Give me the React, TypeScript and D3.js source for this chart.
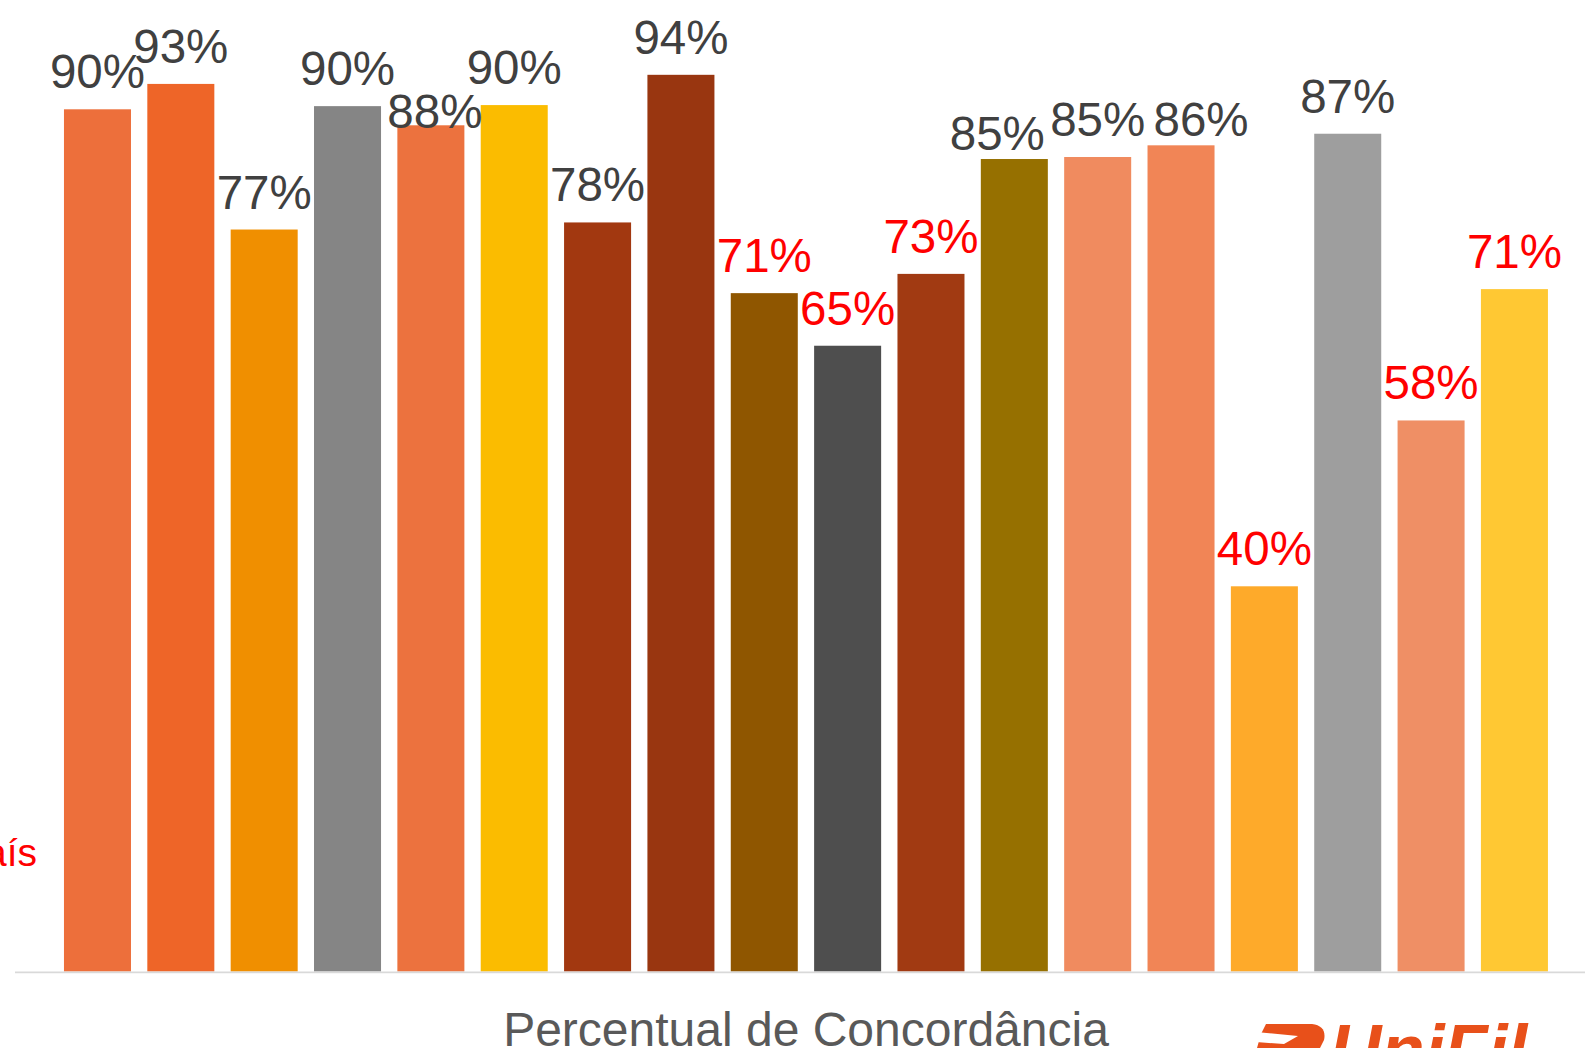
import React, { useEffect, useRef } from 'react';
import { scaleBand, scaleLinear, select } from 'd3';

// one bar per item, no category labels are shown on the chart
const items = [
  'Item 1', 'Item 2', 'Item 3', 'Item 4', 'Item 5', 'Item 6',
  'Item 7', 'Item 8', 'Item 9', 'Item 10', 'Item 11', 'Item 12',
  'Item 13', 'Item 14', 'Item 15', 'Item 16', 'Item 17', 'Item 18'
];

// percentual de concordância (labels show them rounded)
const values = [
  90.0, 92.65, 77.45, 90.33, 88.33, 90.44, 78.19, 93.6, 70.81,
  65.32, 72.82, 84.81, 85.02, 86.24, 40.21, 87.45, 57.52, 71.23
];

// items below the reference are flagged in red
const flagged = [false, false, false, false, false, false, false, false, true, true, true, false, false, false, true, false, true, true];

const barColors = [
  '#ED6F3B', '#EE6528', '#F08F00', '#858585', '#EC723E', '#FBBC00',
  '#A23810', '#993610', '#8F5600', '#4E4E4E', '#A13A12', '#967000',
  '#F08B5F', '#F18556', '#FEAA2A', '#9E9E9E', '#EF8F65', '#FFC833'
];

const axisTitle = 'Percentual de Concordância';

const W = 1585;
const H = 1048;

// labels that Excel pushed aside to avoid overlaps: index -> [dx, dy]
const labelShift = { 4: [4, 24], 11: [-17, 12], 13: [20, 12] };

const App = () => {
  const svgRef = useRef(null);

  useEffect(() => {
    const svg = select(svgRef.current);
    svg.selectAll('*').remove();

    const x = scaleBand()
      .domain(items)
      .range([55.8, 1556.1])
      .paddingInner(0.196)
      .paddingOuter(0.098);

    const y = scaleLinear().domain([0, 100]).range([971.5, 13.5]);

    svg.selectAll('.bar')
      .data(values)
      .join('rect')
      .attr('class', 'bar')
      .attr('x', (d, i) => x(items[i]))
      .attr('width', x.bandwidth())
      .attr('y', d => y(d))
      .attr('height', d => y(0) - y(d))
      .attr('fill', (d, i) => barColors[i]);

    // category axis line
    svg.append('line')
      .attr('x1', 15)
      .attr('x2', W)
      .attr('y1', y(0) + 0.9)
      .attr('y2', y(0) + 0.9)
      .attr('stroke', '#D9D9D9')
      .attr('stroke-width', 1.6);

    svg.selectAll('.label')
      .data(values)
      .join('text')
      .attr('class', 'label')
      .attr('x', (d, i) => x(items[i]) + x.bandwidth() / 2 + (labelShift[i] ? labelShift[i][0] : 0))
      .attr('y', (d, i) => y(d) - 21 + (labelShift[i] ? labelShift[i][1] : 0))
      .attr('text-anchor', 'middle')
      .style('font-family', 'Arial, "Liberation Sans", sans-serif')
      .style('font-size', '47.5px')
      .attr('fill', (d, i) => (flagged[i] ? '#FF0000' : '#404040'))
      .text(d => `${Math.round(d)}%`);

    // cut-off legend text on the left edge
    svg.append('text')
      .attr('x', 37)
      .attr('y', 866)
      .attr('text-anchor', 'end')
      .style('font-family', 'Arial, "Liberation Sans", sans-serif')
      .style('font-size', '39px')
      .attr('fill', '#FF0000')
      .text('aís');

    svg.append('text')
      .attr('x', 806)
      .attr('y', 1046)
      .attr('text-anchor', 'middle')
      .style('font-family', 'Arial, "Liberation Sans", sans-serif')
      .style('font-size', '48px')
      .attr('fill', '#595959')
      .text(axisTitle);

    // logo, mostly below the bottom edge
    const logo = svg.append('g').attr('fill', '#E8501A');
    logo.append('path')
      .attr('d', 'M1266,1024 L1312,1024 Q1327,1026 1324,1040 L1320,1048 L1257,1048 L1261,1034 Z');
    logo.append('path')
      .attr('fill', '#fff')
      .attr('d', 'M1256,1032 L1298,1036 L1284,1044 L1256,1042 Z');
    logo.append('text')
      .attr('x', 1330)
      .attr('y', 1074)
      .style('font-family', 'Arial, "Liberation Sans", sans-serif')
      .style('font-size', '71px')
      .style('font-weight', 'bold')
      .style('font-style', 'italic')
      .text('UniFil');
  }, []);

  return (
    <svg
      ref={svgRef}
      width={W}
      height={H}
      style={{ position: 'absolute', left: 0, top: 0, display: 'block', background: '#fff' }}
    />
  );
};

export default App;
